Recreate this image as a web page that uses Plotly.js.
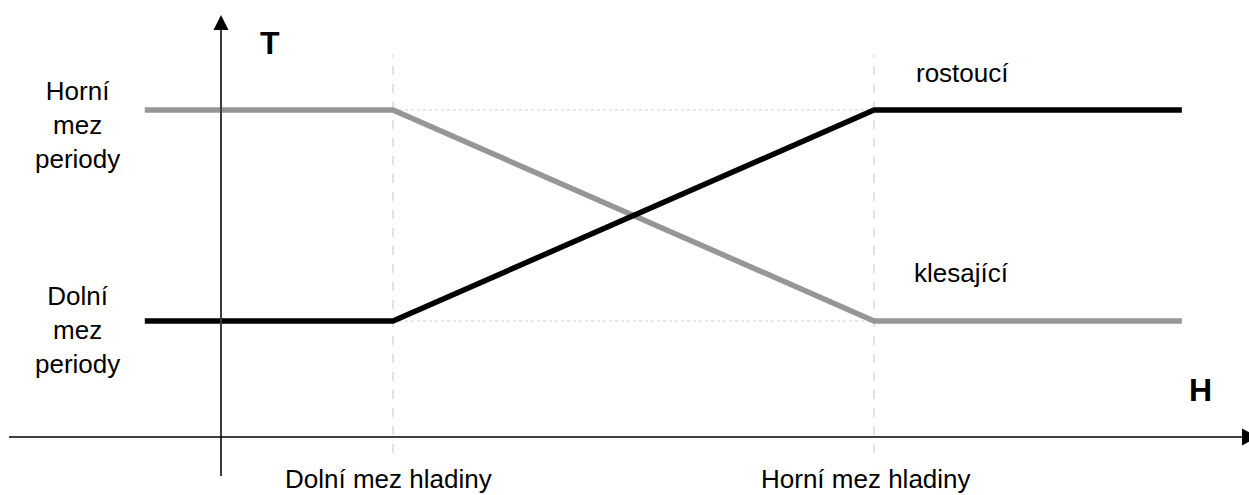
<!DOCTYPE html>
<html>
<head>
<meta charset="utf-8">
<script src="https://cdn.plot.ly/plotly-3.0.1.min.js"></script>
<style>html,body{margin:0;padding:0;background:#fff;}#chart{width:1249px;height:495px;}</style>
</head>
<body>
<div id="chart"></div>
<script>
// Hladina H (x) – 1 = dolní mez hladiny, 2 = horní mez hladiny
const levelH = [0.484, 1, 2, 2.640];
// Teplota/perioda T (y) – 1 = dolní mez periody, 2 = horní mez periody
const rostouci = [1, 1, 2, 2];
const klesajici = [2, 2, 1, 1];
const hLimits = [1, 2];
const hLimitLabels = ['Dolní mez hladiny', 'Horní mez hladiny'];
const tLimits = [1, 2];
const tLimitLabels = ['Dolní<br>mez<br>periody', 'Horní<br>mez<br>periody'];
const seriesNames = ['rostoucí', 'klesající'];

const FONT = 'Arial, "Liberation Sans", sans-serif';
const xr = [0.18295, 2.77963];
const yr = [0.17536, 2.52133];
const axisX = 0.6424;   // poloha svislé osy
const axisY = 0.4502;   // poloha vodorovné osy

const traces = [
  {x: levelH, y: klesajici, mode: 'lines', line: {color: '#969696', width: 5.5}, name: seriesNames[1]},
  {x: levelH, y: rostouci, mode: 'lines', line: {color: '#000000', width: 5.5}, name: seriesNames[0]}
];

const shapes = [];
// guide lines
hLimits.forEach(h => shapes.push({type: 'line', xref: 'x', yref: 'y', x0: h, x1: h, y0: 0.3744, y1: 2.26,
  line: {color: '#c4c4c4', width: 1, dash: 'dash'}, layer: 'below'}));
tLimits.forEach(t => shapes.push({type: 'line', xref: 'x', yref: 'y', x0: hLimits[0], x1: hLimits[1], y0: t, y1: t,
  line: {color: '#d0d0d0', width: 1, dash: 'dot'}, layer: 'below'}));
// axes
shapes.push({type: 'line', xref: 'x', yref: 'y', x0: axisX, x1: axisX, y0: 0.2654, y1: 2.40,
  line: {color: '#3a3a3a', width: 2}});
shapes.push({type: 'line', xref: 'x', yref: 'y', x0: 0.2017, x1: xr[1], y0: axisY, y1: axisY,
  line: {color: '#000000', width: 1.5}});
// arrow heads (pixel-sized)
shapes.push({type: 'path', xref: 'x', yref: 'y', xsizemode: 'pixel', ysizemode: 'pixel',
  xanchor: axisX, yanchor: 2.4502, path: 'M 0 0 L -7.5 -15 L 7.5 -15 Z',
  fillcolor: '#000', line: {width: 0}});
shapes.push({type: 'path', xref: 'x', yref: 'y', xsizemode: 'pixel', ysizemode: 'pixel',
  xanchor: xr[1], yanchor: axisY, path: 'M -7 -8.5 L 9 0 L -7 8.5 Z',
  fillcolor: '#000', line: {width: 0}});

const annotations = [];
const baseFont = {family: FONT, size: 26, color: '#000'};
tLimits.forEach((t, i) => annotations.push({x: 0.3451, y: t - 0.0427 - (i === 1 ? 0.0284 : 0), xref: 'x', yref: 'y',
  text: tLimitLabels[i], showarrow: false, font: baseFont, align: 'center', xanchor: 'center', yanchor: 'middle'}));
const hLabelX = [0.9896, 1.984];
hLimits.forEach((h, i) => annotations.push({x: hLabelX[i], y: 0.2512, xref: 'x', yref: 'y',
  text: hLimitLabels[i], showarrow: false, font: baseFont, xanchor: 'center', yanchor: 'middle'}));
annotations.push({x: 2.183, y: 2.1754, xref: 'x', yref: 'y', text: seriesNames[0], showarrow: false, font: baseFont, xanchor: 'center', yanchor: 'middle'});
annotations.push({x: 2.181, y: 1.2275, xref: 'x', yref: 'y', text: seriesNames[1], showarrow: false, font: baseFont, xanchor: 'center', yanchor: 'middle'});
annotations.push({x: 0.7443, y: 2.3175, xref: 'x', yref: 'y', text: '<b>T</b>', showarrow: false,
  font: {family: FONT, size: 32, color: '#000'}, xanchor: 'center', yanchor: 'middle'});
annotations.push({x: 2.6778, y: 0.673, xref: 'x', yref: 'y', text: '<b>H</b>', showarrow: false,
  font: {family: FONT, size: 32, color: '#000'}, xanchor: 'center', yanchor: 'middle'});

const layout = {
  width: 1249, height: 495,
  margin: {l: 0, r: 0, t: 0, b: 0, pad: 0},
  paper_bgcolor: '#fff', plot_bgcolor: '#fff',
  showlegend: false,
  xaxis: {range: xr, visible: false, fixedrange: true},
  yaxis: {range: yr, visible: false, fixedrange: true},
  shapes: shapes,
  annotations: annotations
};
Plotly.newPlot('chart', traces, layout, {staticPlot: true, displayModeBar: false});
</script>
</body>
</html>
